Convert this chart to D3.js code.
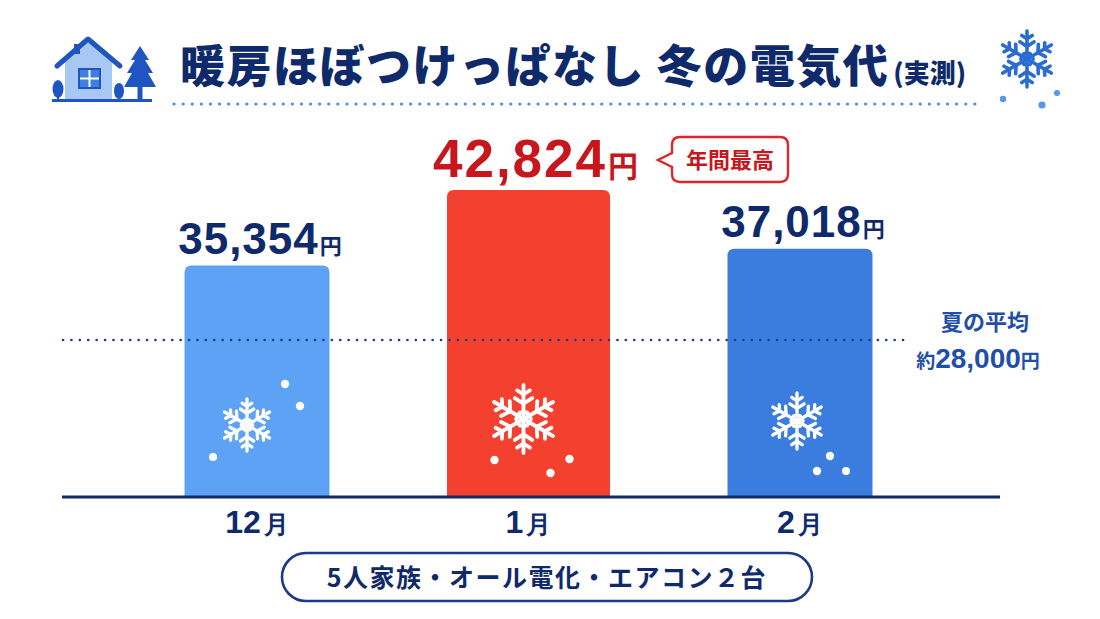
<!DOCTYPE html>
<html>
<head>
<meta charset="utf-8">
<script src="https://cdn.jsdelivr.net/npm/d3@7"></script>
<style>
  html, body { margin: 0; padding: 0; background: #ffffff; }
  svg { display: block; font-family: "Noto Sans CJK JP", "Noto Sans", sans-serif; }
  .num { font-family: "Liberation Sans", Arial, sans-serif; }
</style>
</head>
<body>
<div id="chart"></div>
<script>
// データ
const months     = ['12月', '1月', '2月'];
const costs      = [35354, 42824, 37018];
const summerAvg  = 28000;
const peakIndex  = 1;
const barColors  = ['#5ea2f6', '#f4412f', '#3b7ddf'];

const W = 1100, H = 619;
const NAVY = '#0f2a6b';
const RED  = '#c8161d';

const svg = d3.select('#chart').append('svg')
    .attr('width', W).attr('height', H);

// スケール
const x = d3.scaleBand().domain(months).range([58, 999]).padding(0.466);
const y = d3.scaleLinear().domain([12585, 42824]).range([496, 190]);

const fmt = d3.format(',');

// 雪の結晶
function snowflake(g, cx, cy, r, color, sw) {
    const s = g.append('g').attr('transform', `translate(${cx},${cy})`)
        .attr('stroke', color).attr('stroke-width', sw)
        .attr('stroke-linecap', 'round').attr('stroke-linejoin', 'round').attr('fill', 'none');
    for (let i = 0; i < 6; i++) {
        const a = s.append('g').attr('transform', `rotate(${i * 60})`);
        a.append('line').attr('x1', 0).attr('y1', 0).attr('x2', 0).attr('y2', -r);
        [[0.45, 0.3], [0.72, 0.22]].forEach(([p, l]) => {
            a.append('path').attr('d',
                `M${-l * r * 0.85},${-p * r - l * r * 0.55} L0,${-p * r} L${l * r * 0.85},${-p * r - l * r * 0.55}`);
        });
    }
    s.append('path')
        .attr('d', d3.range(6).map((i, k) => {
            const t = (i * 60 + 30) * Math.PI / 180, rr = r * 0.22;
            return (k ? 'L' : 'M') + (rr * Math.sin(t)) + ',' + (-rr * Math.cos(t));
        }).join('') + 'Z');
    return s;
}

// ---- タイトル部 ----
const icon = svg.append('g');
icon.append('path').attr('d', 'M65,60 L88,42 L112,60 L112,100 L65,100 Z').attr('fill', '#a9c7f3');
icon.append('path').attr('d', 'M57,66 L88,39 L120,66')
    .attr('fill', 'none').attr('stroke', '#1f55c0').attr('stroke-width', 5)
    .attr('stroke-linecap', 'round').attr('stroke-linejoin', 'round');
icon.append('rect').attr('x', 74).attr('y', 44).attr('width', 6).attr('height', 10).attr('fill', '#1f55c0');
icon.append('rect').attr('x', 79).attr('y', 69).attr('width', 21).attr('height', 19)
    .attr('fill', '#3f7fe0').attr('stroke', '#1f55c0').attr('stroke-width', 2);
icon.append('line').attr('x1', 89.5).attr('y1', 70).attr('x2', 89.5).attr('y2', 87).attr('stroke', '#fff').attr('stroke-width', 2);
icon.append('line').attr('x1', 80).attr('y1', 78.5).attr('x2', 99).attr('y2', 78.5).attr('stroke', '#fff').attr('stroke-width', 2);
icon.append('ellipse').attr('cx', 58).attr('cy', 89).attr('rx', 5.5).attr('ry', 9).attr('fill', '#1f55c0');
icon.append('rect').attr('x', 57).attr('y', 95).attr('width', 2).attr('height', 6).attr('fill', '#1f55c0');
icon.append('ellipse').attr('cx', 119).attr('cy', 91).attr('rx', 5).attr('ry', 8).attr('fill', '#1f55c0');
icon.append('path')
    .attr('d', 'M140,46 L131,60 L135,60 L127,73 L132,73 L124,87 L156,87 L148,73 L153,73 L145,60 L149,60 Z')
    .attr('fill', '#1f55c0');
icon.append('rect').attr('x', 137.5).attr('y', 86).attr('width', 5).attr('height', 13).attr('fill', '#1f55c0');
icon.append('line').attr('x1', 52).attr('y1', 100.5).attr('x2', 152).attr('y2', 100.5)
    .attr('stroke', '#1f55c0').attr('stroke-width', 3);

svg.append('text')
    .attr('x', 180).attr('y', 83)
    .attr('fill', NAVY).attr('font-weight', 900)
    .style('font-size', '45px').style('letter-spacing', '1.5px')
    .text('暖房ほぼつけっぱなし 冬の電気代')
  .append('tspan')
    .attr('dx', 4)
    .style('font-size', '26px').style('letter-spacing', '0px')
    .text('(実測)');

svg.append('line')
    .attr('x1', 174).attr('x2', 976).attr('y1', 104).attr('y2', 104)
    .attr('stroke', '#4f8fe6').attr('stroke-width', 3.2)
    .attr('stroke-linecap', 'round').attr('stroke-dasharray', '0.1 9');

snowflake(svg, 1027, 59, 28, '#2b6cd3', 3.6);
[[1003, 99, 3.2], [1042, 105, 3.6], [1057, 93, 3]].forEach(([cx, cy, r]) => {
    svg.append('circle').attr('cx', cx).attr('cy', cy).attr('r', r).attr('fill', '#5a95ea');
});

// ---- バー ----
const barG = svg.append('g');
const r = 7;
months.forEach((m, i) => {
    const extra = i === peakIndex ? 9 : 0;
    const x0 = x(m) - extra, x1 = x(m) + x.bandwidth() + extra;
    const y0 = y(costs[i]), yb = y.range()[0];
    barG.append('path')
        .attr('d', `M${x0},${yb} L${x0},${y0 + r} Q${x0},${y0} ${x0 + r},${y0} L${x1 - r},${y0} Q${x1},${y0} ${x1},${y0 + r} L${x1},${yb} Z`)
        .attr('fill', barColors[i]);
});

// バー内の装飾
const cx = m => x(m) + x.bandwidth() / 2;
const deco = [
    { flake: [-10, 425, 26], dots: [[-44, 457, 4], [28, 384, 4.2], [43, 406, 4.2]] },
    { flake: [-5, 419, 34], dots: [[-34, 460, 4.2], [22, 473, 4.2], [41, 459, 4.2]] },
    { flake: [-3, 421, 28], dots: [[30, 456, 4.2], [17, 471, 4.2], [46, 471, 4]] }
];
months.forEach((m, i) => {
    const d = deco[i];
    snowflake(barG, cx(m) + d.flake[0], d.flake[1], d.flake[2], '#ffffff', d.flake[2] > 30 ? 3.8 : 3.3);
    d.dots.forEach(([dx, dy, rr]) => {
        barG.append('circle').attr('cx', cx(m) + dx).attr('cy', dy).attr('r', rr).attr('fill', '#ffffff');
    });
});

// 夏の平均ライン
svg.append('line')
    .attr('x1', 63).attr('x2', 906).attr('y1', y(summerAvg)).attr('y2', y(summerAvg))
    .attr('stroke', '#1d3f8a').attr('stroke-width', 2.6)
    .attr('stroke-linecap', 'round').attr('stroke-dasharray', '0.1 8.3');

svg.append('text')
    .attr('x', 985).attr('y', y(summerAvg) - 10).attr('text-anchor', 'middle')
    .attr('fill', '#1f4fa8').attr('font-weight', 700).style('font-size', '22px')
    .text('夏の平均');
const avgT = svg.append('text')
    .attr('x', 978).attr('y', y(summerAvg) + 28).attr('text-anchor', 'middle')
    .attr('fill', '#1f4fa8').attr('font-weight', 700);
avgT.append('tspan').style('font-size', '19px').text('約');
avgT.append('tspan').attr('class', 'num').style('font-size', '28px').text(fmt(summerAvg));
avgT.append('tspan').style('font-size', '19px').text('円');

// 軸(ベースライン)
svg.append('line')
    .attr('x1', 62).attr('x2', 1000).attr('y1', y.range()[0] + 1).attr('y2', y.range()[0] + 1)
    .attr('stroke', NAVY).attr('stroke-width', 2.8);

const xAxis = svg.append('g')
    .attr('transform', `translate(0,${y.range()[0]})`)
    .call(d3.axisBottom(x).tickSize(0).tickPadding(0).tickFormat(''));
xAxis.select('.domain').remove();
xAxis.selectAll('.tick').each(function(m) {
    const t = d3.select(this).append('text')
        .attr('y', 37).attr('text-anchor', 'middle')
        .attr('fill', NAVY).attr('font-weight', 700);
    t.append('tspan').attr('class', 'num').style('font-size', '32px').text(m.replace('月', ''));
    t.append('tspan').attr('dx', 3).style('font-size', '25px').text('月');
});

// 値ラベル
months.forEach((m, i) => {
    const peak = i === peakIndex;
    const t = svg.append('text')
        .attr('x', cx(m) + (peak ? 7 : 3)).attr('y', y(costs[i]) - (peak ? 13 : 12))
        .attr('text-anchor', 'middle')
        .attr('fill', peak ? RED : NAVY).attr('font-weight', 700);
    t.append('tspan').attr('class', 'num')
        .style('font-size', peak ? '53px' : '44px').style('letter-spacing', peak ? '2px' : '1px')
        .text(fmt(costs[i]));
    t.append('tspan').attr('dx', 1).style('font-size', peak ? '30px' : '22px').text('円');
});

// 年間最高の吹き出し
const bx = 672, by = 137, bw = 116, bh = 45;
svg.append('path')
    .attr('d', `M${bx + 8},${by} L${bx + bw - 8},${by} Q${bx + bw},${by} ${bx + bw},${by + 8} L${bx + bw},${by + bh - 8} Q${bx + bw},${by + bh} ${bx + bw - 8},${by + bh} L${bx + 8},${by + bh} Q${bx},${by + bh} ${bx},${by + bh - 8} L${bx},${by + 30} L${bx - 14},${by + 23} L${bx},${by + 16} L${bx},${by + 8} Q${bx},${by} ${bx + 8},${by} Z`)
    .attr('fill', '#fff').attr('stroke', '#e0262b').attr('stroke-width', 2.4);
svg.append('text')
    .attr('x', bx + bw / 2).attr('y', by + 31).attr('text-anchor', 'middle')
    .attr('fill', RED).attr('font-weight', 700).style('font-size', '22px')
    .text('年間最高');

// フッター
svg.append('rect')
    .attr('x', 282).attr('y', 553).attr('width', 530).attr('height', 48).attr('rx', 24)
    .attr('fill', '#fff').attr('stroke', '#1d3a86').attr('stroke-width', 2.6);
svg.append('text')
    .attr('x', 547).attr('y', 587).attr('text-anchor', 'middle')
    .attr('fill', NAVY).attr('font-weight', 700).style('font-size', '25px')
    .style('letter-spacing', '1.5px')
    .text('5人家族・オール電化・エアコン２台');
</script>
</body>
</html>
